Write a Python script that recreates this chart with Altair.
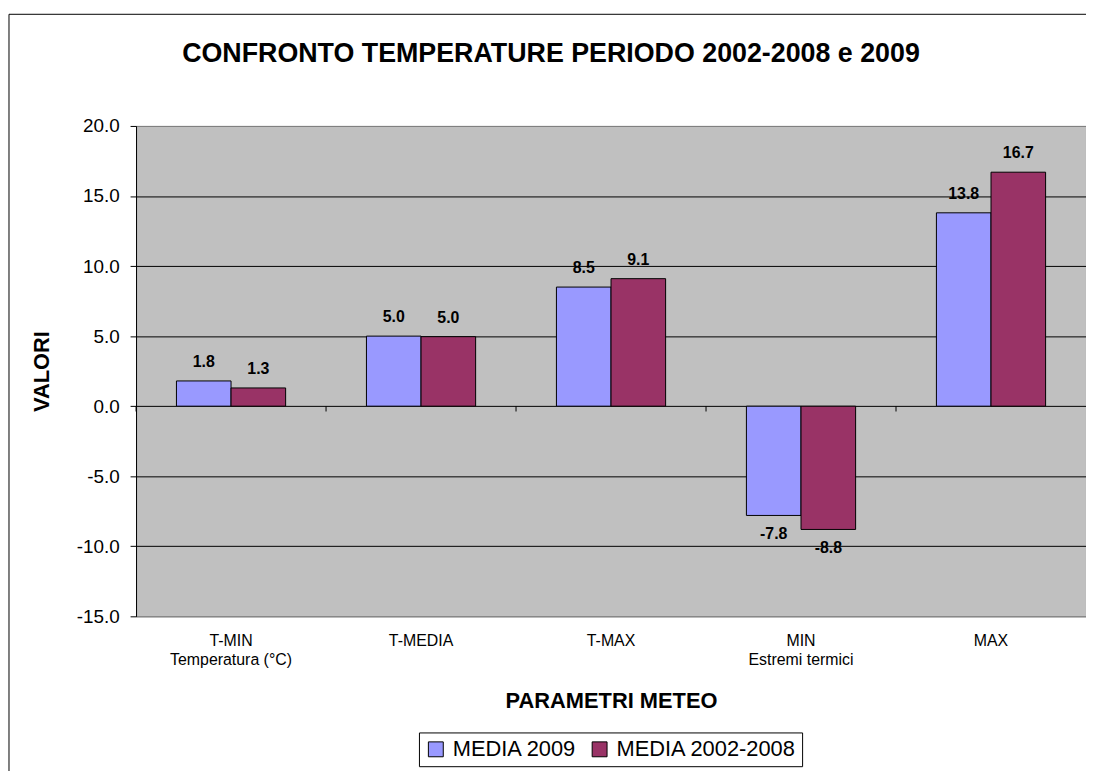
import altair as alt
import pandas as pd

categories = ["T-MIN", "T-MEDIA", "T-MAX", "MIN", "MAX"]
group_labels = ["Temperatura (°C)", "", "", "Estremi termici", ""]
series_names = ["MEDIA 2009", "MEDIA 2002-2008"]
media_2009 = [1.8, 5.0, 8.5, -7.8, 13.8]
media_2002_2008 = [1.3, 4.96, 9.1, -8.8, 16.7]
y_ticks = [-15, -10, -5, 0, 5, 10, 15, 20]
colors = ["#9999FF", "#993366"]
title_text = "CONFRONTO TEMPERATURE PERIODO 2002-2008 e 2009"

FONT = "Liberation Sans"

cat_labels = [c + ("|" + g if g else "") for c, g in zip(categories, group_labels)]
rows = []
for lab, a, b in zip(cat_labels, media_2009, media_2002_2008):
    rows.append({"cat": lab, "serie": series_names[0], "v": a})
    rows.append({"cat": lab, "serie": series_names[1], "v": b})
df = pd.DataFrame(rows)
ticks_df = pd.DataFrame({"cat": cat_labels, "y0": [0] * 5, "y1": [-0.38] * 5})
one_df = pd.DataFrame({"k": [0]})

xs = alt.Scale(domain=cat_labels, paddingInner=0, paddingOuter=0)
xo = alt.Scale(domain=series_names, paddingInner=0, paddingOuter=0.74)
ys = alt.Scale(domain=[-15, 20], nice=False, zero=False)

x_enc = alt.X(
    "cat:N", scale=xs, sort=cat_labels, title="PARAMETRI METEO",
    axis=alt.Axis(
        labelExpr="split(datum.label, '|')", labelAngle=0, labelFontSize=16,
        labelFont=FONT, labelColor="black", labelPadding=16, labelLineHeight=20,
        ticks=False, domain=False, grid=False,
        titleFont=FONT, titleFontSize=22, titleFontWeight="bold", titleColor="black",
        titleY=85, titleBaseline="middle",
    ),
)
y_enc = alt.Y(
    "v:Q", scale=ys, title="VALORI",
    axis=alt.Axis(
        values=y_ticks,
        labelExpr="(datum.value < 0 ? '-' : '') + format(abs(datum.value), '.1f')",
        labelFontSize=19, labelFont=FONT,
        labelColor="black", labelPadding=11, tickSize=6, tickColor="black",
        domainColor="black",
        gridColor=alt.condition("datum.value == 20 || datum.value == -15",
                                alt.value("#808080"), alt.value("black")),
        gridWidth=1,
        titleFont=FONT, titleFontSize=22, titleFontWeight="bold", titleColor="black",
        titleX=-95, titleY=247, titleBaseline="middle", titleAngle=270,
    ),
)
color_enc = alt.Color(
    "serie:N", scale=alt.Scale(domain=series_names, range=colors),
    legend=alt.Legend(
        title=None, orient="none", legendX=285, legendY=611, direction="horizontal",
        strokeColor="black", padding=6, labelFontSize=22, labelFont=FONT,
        labelColor="black", symbolType="square", symbolSize=225,
        symbolStrokeColor="black", symbolStrokeWidth=1, columnPadding=12,
        labelOffset=6, fillColor="white", labelLimit=0,
    ),
)

base = alt.Chart(df).transform_calculate(
    lbl="(datum.v < 0 ? '-' : '') + format(abs(datum.v), '.1f')"
)
bars = base.mark_bar(stroke="black", strokeWidth=1).encode(
    x=x_enc, y=y_enc,
    xOffset=alt.XOffset("serie:N", scale=xo, sort=series_names),
    color=color_enc,
)
lab_pos = base.transform_filter("datum.v >= 0").mark_text(
    font=FONT, fontSize=16, fontWeight="bold", baseline="middle", dy=-19, color="black"
).encode(
    x=alt.X("cat:N", scale=xs, sort=cat_labels),
    xOffset=alt.XOffset("serie:N", scale=xo, sort=series_names),
    y=alt.Y("v:Q", scale=ys),
    text="lbl:N",
)
lab_neg = base.transform_filter("datum.v < 0").mark_text(
    font=FONT, fontSize=16, fontWeight="bold", baseline="middle", dy=19, color="black"
).encode(
    x=alt.X("cat:N", scale=xs, sort=cat_labels),
    xOffset=alt.XOffset("serie:N", scale=xo, sort=series_names),
    y=alt.Y("v:Q", scale=ys),
    text="lbl:N",
)
cat_ticks = alt.Chart(ticks_df).mark_rule(color="black", strokeWidth=1).encode(
    x=alt.X("cat:N", scale=xs, sort=cat_labels, bandPosition=0),
    y=alt.Y("y0:Q", scale=ys),
    y2="y1:Q",
)
title_mark = alt.Chart(one_df).mark_text(
    font=FONT, fontSize=27, fontWeight="bold", color="black", baseline="middle",
    align="center",
).encode(x=alt.value(418), y=alt.value(-72), text=alt.value(title_text))
border_top = alt.Chart(one_df).mark_rule(color="black", strokeWidth=1).encode(
    x=alt.value(-128), x2=alt.value(1000), y=alt.value(-112.5)
)
border_left = alt.Chart(one_df).mark_rule(color="black", strokeWidth=1).encode(
    x=alt.value(-128), y=alt.value(-112.5), y2=alt.value(700)
)

chart = alt.layer(
    bars, lab_pos, lab_neg, cat_ticks, title_mark, border_top, border_left
).properties(
    width=957, height=494,
    autosize=alt.AutoSizeParams(type="none"),
    padding={"left": 129, "top": 116, "right": 0, "bottom": 153},
    background="white",
).configure_view(
    fill="#C0C0C0", stroke="#808080", strokeWidth=1
)

chart.save("out.html", embed_options={"renderer": "svg", "actions": False})
